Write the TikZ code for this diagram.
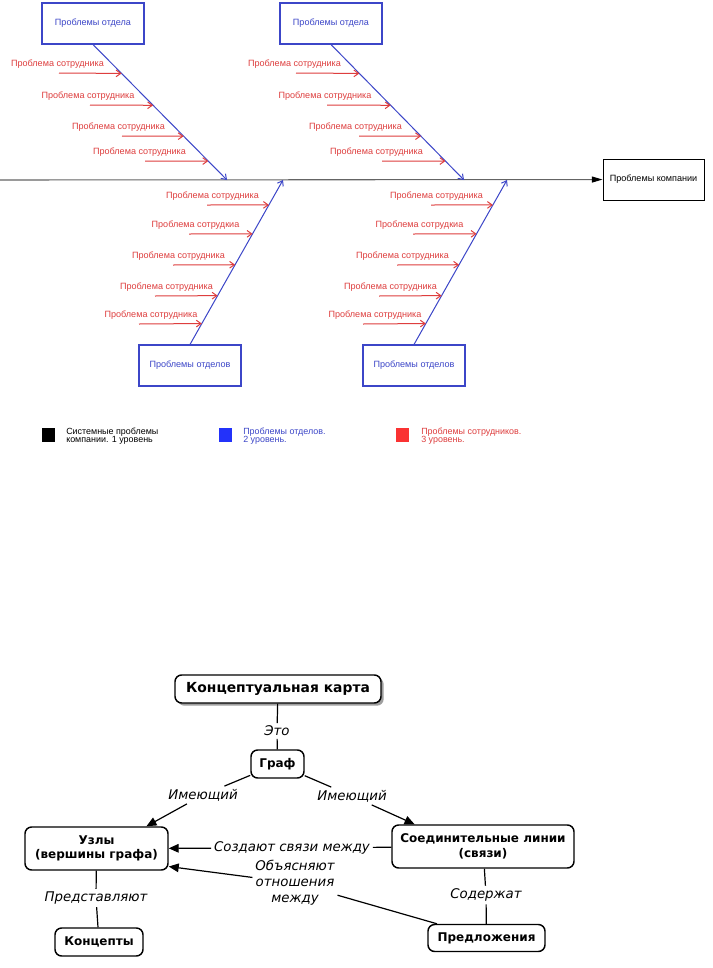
\documentclass[tikz,border=0pt]{standalone}
\usepackage{fontspec}
\setmainfont{Liberation Sans}
\newfontfamily\cmfont{DejaVu Sans}[BoldFont={DejaVu Sans Bold},ItalicFont={DejaVu Sans Oblique}]
\usetikzlibrary{arrows.meta,shadows,calc}
\definecolor{fred}{RGB}{222,62,62}
\definecolor{fblue}{RGB}{60,70,200}
\definecolor{lblue}{RGB}{35,50,250}
\definecolor{lred}{RGB}{250,50,50}
\definecolor{spinegray}{RGB}{100,100,100}
\tikzset{
  ftxt/.style={font=\fontsize{6.8}{8}\selectfont, inner sep=0pt},
  dept/.style={draw=fblue, line width=0.8pt, text=fblue, ftxt, minimum width=76.5pt, minimum height=30.75pt},
  comp/.style={draw=black, line width=0.7pt, ftxt, minimum width=75.75pt, minimum height=30.75pt},
  spine/.style={draw=spinegray, line width=0.8pt, -{Triangle[length=8pt,width=4.5pt,fill=black,color=black]}},
  bone/.style={draw=fblue, line width=0.75pt, -{Straight Barb[length=3.5pt,width=5pt]}},
  rib/.style={draw=fred, line width=0.75pt, -{Straight Barb[length=3.5pt,width=5pt]}},
  rtxt/.style={ftxt, text=fred},
  legsq/.style={minimum width=9.75pt, minimum height=10.5pt, inner sep=0pt},
  legtxt/.style={font=\fontsize{6.7}{6.3}\selectfont, inner sep=0pt, align=left, anchor=west},
  cbox/.style={draw, rounded corners=5pt, line width=1.1pt, fill=white, align=center, inner sep=0pt,
    font=\cmfont\bfseries\fontsize{9}{11}\selectfont},
  clab/.style={font=\cmfont\itshape\fontsize{10}{12}\selectfont, inner sep=2pt, align=center},
  cline/.style={line width=0.9pt},
  carr/.style={cline, -{Triangle[length=7.5pt,width=6.5pt]}}
}
\begin{document}
\begin{tikzpicture}[x=0.75pt,y=-0.75pt]
\useasboundingbox (0,0) rectangle (713,968);
\fill[white] (0,0) rectangle (713,968);

% ---------- fishbone ----------
\node[dept] (d1) at (93,23.5) {Проблемы отдела};
\node[dept] (d2) at (331,23.5) {Проблемы отдела};
\node[dept] (d3) at (190,365.5) {Проблемы отделов};
\node[dept] (d4) at (414,365.5) {Проблемы отделов};
\node[comp] (co) at (653.5,179.5) {Проблемы компании};
\coordinate (s0) at (0,180);
\coordinate (h1) at (227,180);
\coordinate (h2) at (464,180);
\coordinate (h3) at (283,180);
\coordinate (h4) at (507,180);

\draw[spine] (s0) -- (co);
\draw[bone] (d1.south) -- (h1);
\draw[bone] (d2.south) -- (h2);
\draw[bone] (d3.north) -- (h3);
\draw[bone] (d4.north) -- (h4);

% top groups
\foreach \y/\xs/\xl [count=\i] in {73/59/57.5,105/90/88,136/122/118.5,161/145/139.5}{
  \coordinate (ta\i) at ($(d1.south)!{(\y-44)/136}!(h1)$);
  \coordinate (tb\i) at ($(d2.south)!{(\y-44)/136}!(h2)$);
  \coordinate (tsa\i) at (\xs,\y);
  \coordinate (tsb\i) at (\xs+237,\y);
  \draw[rib] (tsa\i) -- (ta\i);
  \draw[rib] (tsb\i) -- (tb\i);
  \node[rtxt] (tla\i) at (\xl,\y-9) {Проблема сотрудника};
  \node[rtxt] (tlb\i) at (\xl+237,\y-9) {Проблема сотрудника};
}
% bottom groups
\foreach \y/\xs/\xl/\t [count=\i] in {205/207/212.5/Проблема сотрудника,234/189/195.5/Проблема сотрудкиа,265/173/178.5/Проблема сотрудника,296/155/166.5/Проблема сотрудника,324/139/151/Проблема сотрудника}{
  \coordinate (ba\i) at ($(d3.north)!{(345-\y)/165}!(h3)$);
  \coordinate (bb\i) at ($(d4.north)!{(345-\y)/165}!(h4)$);
  \coordinate (bsa\i) at (\xs,\y);
  \coordinate (bsb\i) at (\xs+224,\y);
  \draw[rib] (bsa\i) -- (ba\i);
  \draw[rib] (bsb\i) -- (bb\i);
  \node[rtxt] (bla\i) at (\xl,\y-8.5) {\t};
  \node[rtxt] (blb\i) at (\xl+224,\y-8.5) {\t};
}

% legend
\node[legsq, fill=black] (lg1) at (48.5,435) {};
\node[legsq, fill=lblue] (lg2) at (225,435) {};
\node[legsq, fill=lred] (lg3) at (402.5,435) {};
\node[legtxt] (lt1) at (66,436) {Системные проблемы\\компании. 1 уровень};
\node[legtxt, text=fblue] (lt2) at (243,436) {Проблемы отделов.\\2 уровень.};
\node[legtxt, text=fred] (lt3) at (421,436) {Проблемы сотрудников.\\3 уровень.};

% ---------- concept map ----------
\node[cbox, minimum width=154.5pt, minimum height=21pt, font=\cmfont\bfseries\fontsize{10.4}{12}\selectfont,
  drop shadow={shadow xshift=2pt, shadow yshift=-2pt, fill=gray!75, opacity=1}] (cmap) at (278,689) {Концептуальная карта};
\node[cbox, minimum width=39.75pt, minimum height=21pt] (graf) at (277.5,764) {Граф};
\node[cbox, minimum width=107.25pt, minimum height=32.25pt] (uzly) at (96.5,848.5) {Узлы\\(вершины графа)};
\node[cbox, minimum width=136.5pt, minimum height=32.25pt] (soed) at (483,846.5) {Соединительные линии\\(связи)};
\node[cbox, minimum width=87.75pt, minimum height=20.25pt] (predl) at (486.5,938) {Предложения};
\node[cbox, minimum width=66pt, minimum height=21pt] (konc) at (99,942) {Концепты};

\node[clab] (eto) at (277,731) {Это};
\node[clab] (im1) at (203,795) {Имеющий};
\node[clab] (im2) at (352,796) {Имеющий};
\node[clab] (sozd) at (292,848) {Создают связи между};
\node[clab] (obj) at (295,883) {Объясняют\\отношения\\между};
\node[clab] (sod) at (486,895) {Содержат};
\node[clab] (pred) at (96,898) {Представляют};

\draw[cline] (cmap) -- (eto);
\draw[cline] (eto) -- (graf);
\draw[cline] (graf) -- (im1);
\draw[carr] (im1) -- (uzly.24);
\draw[cline] (graf) -- (im2);
\draw[carr] (im2) -- (soed.162);
\draw[cline] (soed) -- (sozd);
\draw[carr] (sozd) -- (uzly);
\draw[cline] (predl) -- (obj);
\draw[carr] (obj) -- (uzly.-14);
\draw[cline] (soed) -- (sod);
\draw[cline] (sod) -- (predl);
\draw[cline] (uzly) -- (pred);
\draw[cline] (pred) -- (konc);
\end{tikzpicture}
\end{document}
